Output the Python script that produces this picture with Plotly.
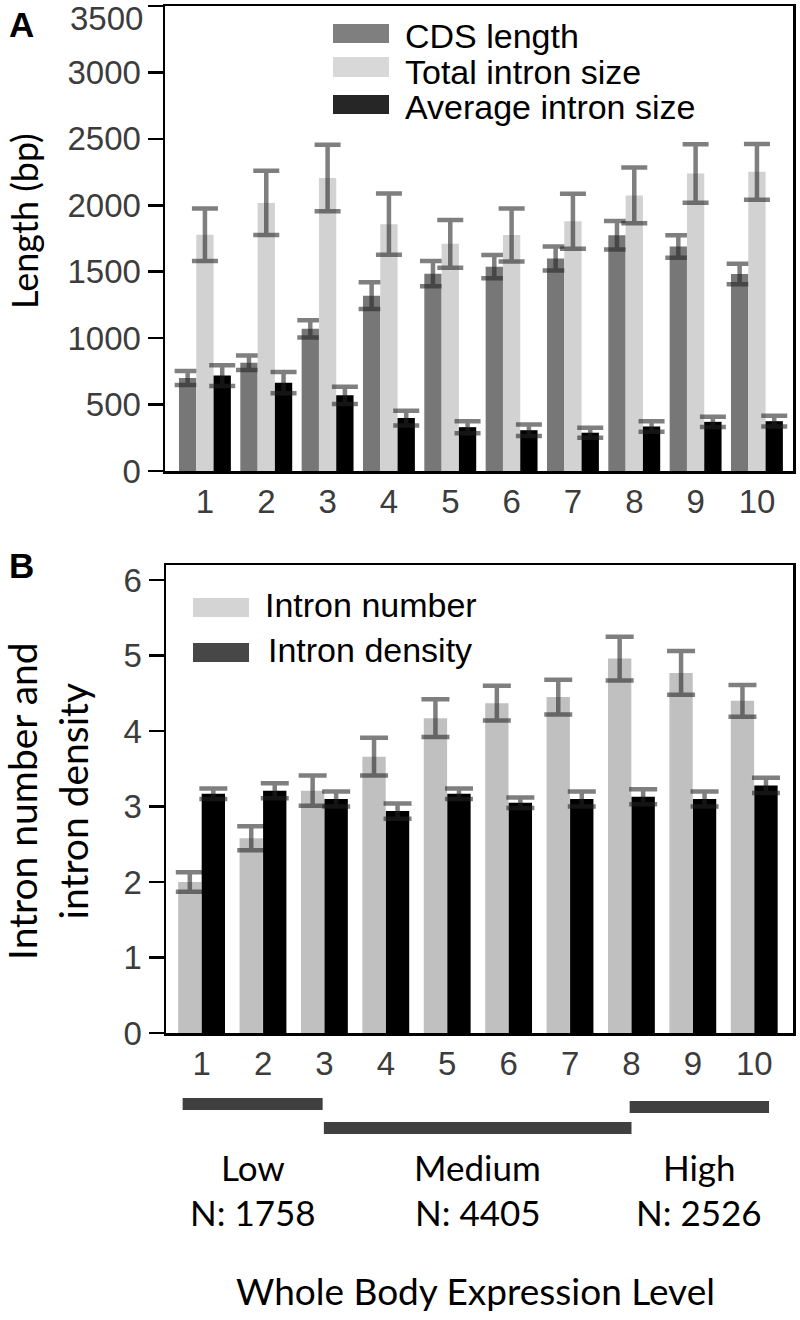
import plotly.graph_objects as go

# ---------------- data ----------------
levels = [1, 2, 3, 4, 5, 6, 7, 8, 9, 10]
level_labels = [str(v) for v in levels]

# Panel A (bp)
length_ticks = [0, 500, 1000, 1500, 2000, 2500, 3000, 3500]
cds_length = [700, 815, 1070, 1320, 1485, 1538, 1600, 1775, 1690, 1483]
cds_err = [52, 55, 65, 100, 95, 88, 90, 107, 85, 77]
total_intron = [1778, 2018, 2205, 1858, 1710, 1776, 1880, 2074, 2240, 2252]
total_err = [197, 242, 250, 230, 180, 200, 207, 210, 220, 210]
avg_intron = [718, 665, 570, 398, 330, 307, 288, 335, 370, 375]
avg_err = [78, 80, 65, 55, 45, 43, 38, 40, 38, 40]

# Panel B
intron_number = [2.0, 2.58, 3.21, 3.66, 4.17, 4.37, 4.45, 4.96, 4.77, 4.40]
number_err = [0.13, 0.16, 0.20, 0.25, 0.25, 0.23, 0.23, 0.29, 0.29, 0.21]
intron_density = [3.17, 3.21, 3.10, 2.94, 3.17, 3.05, 3.10, 3.13, 3.10, 3.28]
density_err = [0.07, 0.10, 0.10, 0.10, 0.07, 0.07, 0.10, 0.10, 0.10, 0.10]

# Expression groups
group_names = ["Low", "Medium", "High"]
group_n = [1758, 4405, 2526]
group_start = [1, 3, 8]
group_end = [3, 8, 10]

legend_a = ["CDS length", "Total intron size", "Average intron size"]
legend_b = ["Intron number", "Intron density"]

# ---------------- styling ----------------
W, H = 800, 1320
TICK_FONT = dict(family="Liberation Sans, Arial, sans-serif", size=33, color="#3c3c3c")
CAL_FONT = "Lato, Open Sans, sans-serif"
ERR_COLOR = "rgba(35,35,35,0.58)"


def py(px):
    return 1 - px / H


def px_x(px):
    return px / W


def note(text, x, y, size, family=CAL_FONT, xanchor="center", textangle=0, color="black",
         xref="paper"):
    return dict(text=text, x=x, y=y, xref=xref, yref="paper", xanchor=xanchor,
                yanchor="middle", textangle=textangle, showarrow=False,
                font=dict(family=family, size=size, color=color))


fig = go.Figure()

# Panel A bars
a_colors = ["#777777", "#d2d2d2", "#000000"]
a_offsets = [-0.424, -0.142, 0.14]
for vals, errs, col, off, name in zip(
    [cds_length, total_intron, avg_intron],
    [cds_err, total_err, avg_err],
    a_colors, a_offsets, legend_a,
):
    fig.add_trace(go.Bar(
        x=levels, y=vals, name=name, xaxis="x", yaxis="y",
        marker=dict(color=col, line=dict(width=0)),
        width=0.282, offset=off,
        error_y=dict(type="data", array=errs, color=ERR_COLOR, thickness=4.5, width=13),
        showlegend=False,
    ))

# Panel B bars
b_colors = ["#c0c0c0", "#000000"]
b_offsets = [-0.383, 0.0]
for vals, errs, col, off, name in zip(
    [intron_number, intron_density],
    [number_err, density_err],
    b_colors, b_offsets, legend_b,
):
    fig.add_trace(go.Bar(
        x=levels, y=vals, name=name, xaxis="x2", yaxis="y2",
        marker=dict(color=col, line=dict(width=0)),
        width=0.38, offset=off,
        error_y=dict(type="data", array=errs, color=ERR_COLOR, thickness=4.5, width=14),
        showlegend=False,
    ))

axis_common = dict(
    showline=True, linecolor="black", linewidth=2.5, mirror=True,
    showgrid=False, zeroline=False, tickfont=TICK_FONT, automargin=False,
    ticklabeloverflow="allow",
)

# top label of panel A is drawn separately (shifted down inside the page like the original)
length_ticktext = [str(v) for v in length_ticks[:-1]] + [""]

fig.update_layout(
    template="none",
    width=W, height=H,
    margin=dict(l=0, r=0, t=0, b=0, pad=0),
    paper_bgcolor="white", plot_bgcolor="white",
    barmode="overlay",
    showlegend=False,
    hovermode=False,
    xaxis=dict(
        domain=[px_x(165), px_x(793)], anchor="y", range=[0.348, 10.587],
        tickmode="array", tickvals=levels, ticktext=level_labels,
        ticks="outside", ticklen=0, tickcolor="rgba(0,0,0,0)", **axis_common,
    ),
    yaxis=dict(
        domain=[py(471), py(6)], anchor="x", range=[0, 3500],
        tickmode="array", tickvals=length_ticks, ticktext=length_ticktext,
        ticks="outside", ticklen=15, tickwidth=2.5, tickcolor="black", **axis_common,
    ),
    xaxis2=dict(
        domain=[px_x(166), px_x(793)], anchor="y2", range=[0.419, 10.63],
        tickmode="array", tickvals=levels, ticktext=level_labels,
        ticks="outside", ticklen=0, tickcolor="rgba(0,0,0,0)", **axis_common,
    ),
    yaxis2=dict(
        domain=[py(1033), py(565)], anchor="x2", range=[0, 6.2], dtick=1,
        ticks="outside", ticklen=15, tickwidth=2.5, tickcolor="black", **axis_common,
    ),
)

shapes = []
annotations = []

# "3500" label of panel A
annotations.append(note(str(length_ticks[-1]), px_x(145), py(18), 33,
                        family=TICK_FONT["family"], xanchor="right", color=TICK_FONT["color"]))

# Panel letters
annotations.append(note("<b>A</b>", px_x(21), py(25), 35, family="Liberation Sans, Arial"))
annotations.append(note("<b>B</b>", px_x(21), py(566), 35, family="Liberation Sans, Arial"))

# Axis titles
annotations.append(note("Length (bp)", px_x(24), py(221), 36, textangle=-90))
annotations.append(note("Intron number and<br>intron density", px_x(47), py(801), 39,
                        textangle=-90))

# Legend A (manual, large swatches)
leg_a_colors = ["#7f7f7f", "#d8d8d8", "#262626"]
leg_a_box = [(24, 43), (57, 77), (95, 114)]
leg_a_text_y = [36, 72, 107]
for name, col, (y0, y1), ty in zip(legend_a, leg_a_colors, leg_a_box, leg_a_text_y):
    shapes.append(dict(type="rect", xref="paper", yref="paper", x0=px_x(333), x1=px_x(389),
                       y0=py(y1), y1=py(y0), fillcolor=col, line=dict(width=0)))
    annotations.append(note(name, px_x(403), py(ty), 34, family="Liberation Sans, Arial",
                            xanchor="left"))

# Legend B
leg_b_colors = ["#d4d4d4", "#474747"]
leg_b_box = [(598, 617), (643, 662)]
leg_b_text_y = [605, 650]
leg_b_text_x = [263, 266]
for name, col, (y0, y1), ty, tx in zip(legend_b, leg_b_colors, leg_b_box, leg_b_text_y, leg_b_text_x):
    shapes.append(dict(type="rect", xref="paper", yref="paper", x0=px_x(193), x1=px_x(249),
                       y0=py(y1), y1=py(y0), fillcolor=col, line=dict(width=0)))
    annotations.append(note(name, px_x(tx), py(ty), 34, family="Liberation Sans, Arial",
                            xanchor="left"))

# Expression group bars and labels (placed on panel B's x axis)
pad_left = [0.31, 0.01, 0.03]
pad_right = [-0.03, 0.0, 0.24]
bar_rows = [(1098, 1110), (1122, 1134), (1101, 1113)]
for i, (gname, n, s, e) in enumerate(zip(group_names, group_n, group_start, group_end)):
    x0 = s - pad_left[i]
    x1 = e + pad_right[i]
    r0, r1 = bar_rows[i]
    shapes.append(dict(type="rect", xref="x2", yref="paper", x0=x0, x1=x1,
                       y0=py(r1), y1=py(r0), fillcolor="#404040", line=dict(width=0)))
    xc = (x0 + x1) / 2
    annotations.append(note(gname, xc, py(1167), 35, xref="x2"))
    annotations.append(note(f"N: {n}", xc, py(1212), 35, xref="x2"))

annotations.append(note("Whole Body Expression Level", px_x(475), py(1290), 37))

fig.update_layout(shapes=shapes, annotations=annotations)

fig.write_html("out.html", config={"displayModeBar": False, "staticPlot": True},
               post_script="document.body.style.margin='0';")
